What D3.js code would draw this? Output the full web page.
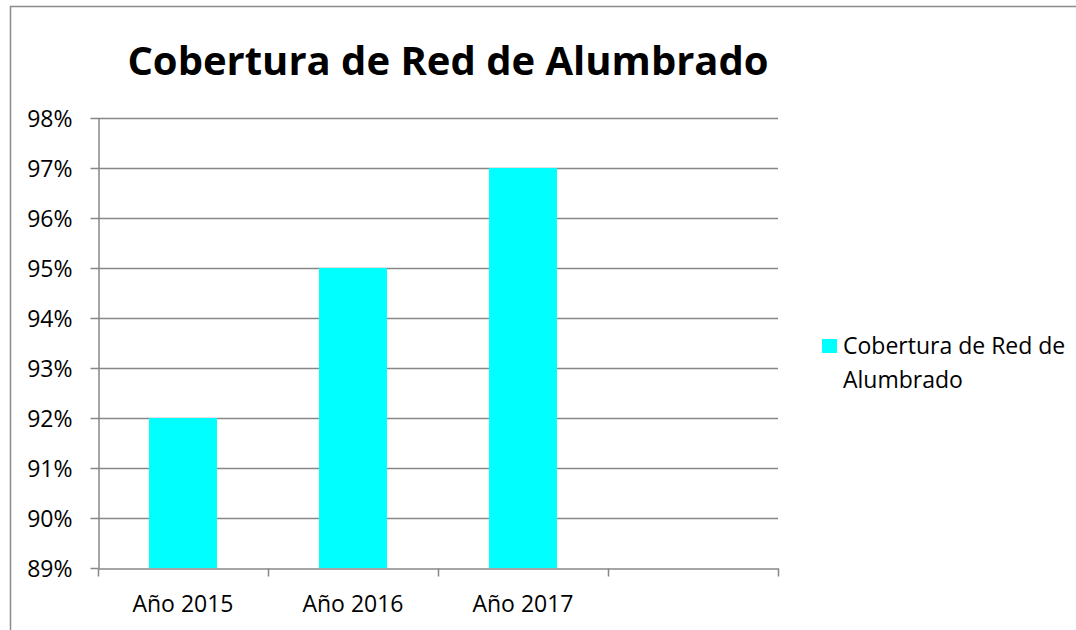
<!DOCTYPE html>
<html>
<head>
<meta charset="utf-8">
<script src="https://cdn.jsdelivr.net/npm/d3@7"></script>
<style>
  body { margin: 0; background: #fff; }
</style>
</head>
<body>
<div id="chart"></div>
<script>
// chart data
const categories = ["Año 2015", "Año 2016", "Año 2017", ""];
const values = [0.92, 0.95, 0.97, null];
const yTicks = [0.89, 0.90, 0.91, 0.92, 0.93, 0.94, 0.95, 0.96, 0.97, 0.98];
const seriesName = ["Cobertura de Red de", "Alumbrado"];
const title = "Cobertura de Red de Alumbrado";

const width = 1076;
const height = 630;
const plot = { left: 98, right: 778, top: 118, bottom: 568 };
const font = "'Open Sans', sans-serif";
const gridColor = "#878787";
const barColor = "#00FFFF";

const svg = d3.select("#chart")
    .append("svg")
    .attr("width", width)
    .attr("height", height)
    .style("display", "block");

// chart border (runs off the right and bottom edges)
svg.append("rect")
    .attr("x", 10.5)
    .attr("y", 6.5)
    .attr("width", 1200)
    .attr("height", 800)
    .attr("fill", "#fff")
    .attr("stroke", "#8c8c8c")
    .attr("stroke-width", 1.5);

const x = d3.scaleBand()
    .domain(categories)
    .range([plot.left, plot.right])
    .paddingInner(0.6)
    .paddingOuter(0.3);

const y = d3.scaleLinear()
    .domain([0.89, 0.98])
    .range([plot.bottom, plot.top]);

// gridlines
svg.append("g")
    .selectAll("line")
    .data(yTicks.slice(1))
    .enter()
    .append("line")
    .attr("x1", plot.left)
    .attr("x2", plot.right)
    .attr("y1", d => Math.round(y(d)) + 0.5)
    .attr("y2", d => Math.round(y(d)) + 0.5)
    .attr("stroke", gridColor)
    .attr("stroke-width", 1.5);

// bars
svg.append("g")
    .selectAll("rect")
    .data(categories.map((c, i) => ({ c, v: values[i] })).filter(d => d.v != null))
    .enter()
    .append("rect")
    .attr("x", d => x(d.c))
    .attr("y", d => y(d.v))
    .attr("width", x.bandwidth())
    .attr("height", d => plot.bottom - y(d.v))
    .attr("fill", barColor);

// y axis
const yAxis = svg.append("g")
    .attr("transform", `translate(${plot.left + 0.5},0)`)
    .call(d3.axisLeft(y).tickValues(yTicks).tickFormat(d3.format(".0%")).tickSize(8).tickSizeOuter(0).tickPadding(18));

// x axis with boundary ticks between categories
const xAxisScale = d3.scaleLinear().domain([0, categories.length]).range([plot.left, plot.right]);
const xAxis = svg.append("g")
    .attr("transform", `translate(0,${plot.bottom + 0.5})`)
    .call(d3.axisBottom(xAxisScale).ticks(categories.length).tickFormat("").tickSize(8).tickSizeOuter(0));

[yAxis, xAxis].forEach(g => {
    g.selectAll("path, line").attr("stroke", gridColor).attr("stroke-width", 1.5);
    g.selectAll("text")
        .style("font-family", font)
        .style("font-size", "23px")
        .attr("fill", "#000");
});
yAxis.selectAll("text").attr("dy", "0.36em");

// category labels
svg.append("g")
    .selectAll("text")
    .data(categories)
    .enter()
    .append("text")
    .attr("x", d => x(d) + x.bandwidth() / 2)
    .attr("y", 612)
    .attr("text-anchor", "middle")
    .style("font-family", font)
    .style("font-size", "23px")
    .text(d => d);

// title
svg.append("text")
    .attr("x", 448)
    .attr("y", 75)
    .attr("text-anchor", "middle")
    .style("font-family", font)
    .style("font-weight", "bold")
    .style("font-size", "40px")
    .text(title);

// legend
const legend = svg.append("g").attr("transform", "translate(822,339)");
legend.append("rect")
    .attr("width", 15)
    .attr("height", 14)
    .attr("fill", barColor);
legend.append("text")
    .attr("x", 21)
    .attr("y", 15)
    .style("font-family", font)
    .style("font-size", "23px")
    .selectAll("tspan")
    .data(seriesName)
    .enter()
    .append("tspan")
    .attr("x", 21)
    .attr("dy", (d, i) => i === 0 ? 0 : 34)
    .text(d => d);
</script>
</body>
</html>
